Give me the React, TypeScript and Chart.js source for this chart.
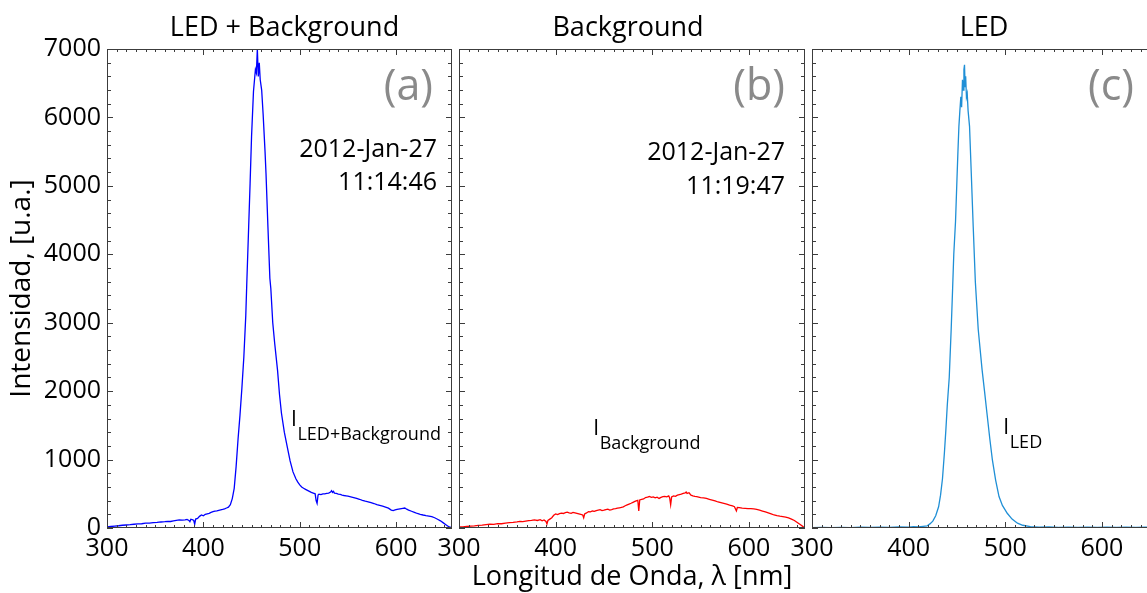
import React, { useEffect, useRef } from 'react';
import { Chart, registerables } from 'chart.js';

Chart.register(...registerables);

const FONT = '"Open Sans", "DejaVu Sans", sans-serif';

// ---------- data ----------
const wavelengthA = [300, 304, 308, 312, 316, 320, 324, 328, 332, 336, 340, 344, 348, 352, 356, 360, 363, 366, 369, 372, 375, 378, 381, 383, 385, 386, 387, 389, 390, 391, 392, 394, 396, 398, 400, 402, 404, 406, 408, 410, 412, 414, 416, 418, 420, 422, 424, 426, 428, 430, 432, 434, 436, 438, 440, 442, 444, 445, 447, 448.5, 450, 452, 454, 455, 456, 457, 458, 459, 460.5, 462, 464, 465, 467, 469, 470, 472, 474, 477, 479, 481, 484, 487, 490, 493, 496, 498, 500, 502, 504, 506, 508, 510, 512, 514, 516, 517, 518, 519, 520, 522, 524, 526, 528, 530, 532, 533, 534, 535, 536, 538, 540, 542, 544, 546, 548, 550, 553, 556, 559, 562, 565, 568, 571, 574, 577, 580, 583, 586, 589, 592, 595, 597, 599, 601, 604, 607, 609, 611, 613, 616, 619, 622, 625, 628, 631, 634, 637, 640, 643, 646, 649, 652, 655, 658];
const intensityA = [15, 22, 28, 33, 40, 44, 48, 55, 60, 62, 70, 72, 78, 82, 88, 92, 98, 95, 105, 112, 118, 115, 120, 125, 110, 92, 128, 120, 110, 55, 130, 140, 170, 190, 178, 200, 208, 215, 228, 238, 245, 250, 258, 265, 272, 280, 292, 305, 340, 430, 580, 900, 1300, 1650, 2050, 2500, 3100, 3550, 4400, 5040, 5720, 6380, 6700, 6650, 7000, 6600, 6800, 6550, 6400, 6050, 5500, 5180, 4400, 3650, 3500, 3000, 2700, 2300, 1950, 1680, 1400, 1190, 980, 820, 720, 670, 630, 600, 580, 565, 550, 535, 520, 510, 500, 400, 360, 480, 495, 488, 500, 498, 505, 510, 525, 545, 520, 535, 510, 505, 495, 490, 482, 475, 470, 465, 455, 445, 432, 420, 405, 392, 383, 370, 358, 342, 330, 318, 305, 290, 262, 255, 265, 272, 280, 288, 292, 275, 262, 245, 228, 212, 200, 190, 182, 175, 165, 150, 128, 105, 75, 45, 15, 5];

const wavelengthB = [300, 304, 308, 312, 316, 320, 324, 328, 332, 336, 340, 344, 348, 352, 356, 360, 363, 366, 369, 372, 375, 378, 381, 384, 386, 388, 390, 391, 392, 394, 396, 398, 400, 402, 404, 406, 408, 410, 412, 414, 416, 418, 420, 422, 424, 426, 428, 429, 430, 432, 434, 436, 438, 440, 442, 444, 446, 448, 450, 452, 454, 456, 458, 460, 462, 464, 466, 468, 470, 472, 474, 476, 478, 480, 482, 484, 485, 486, 487, 489, 491, 493, 495, 497, 499, 501, 503, 505, 507, 509, 511, 513, 515, 517, 518, 519, 520, 522, 524, 526, 528, 530, 532, 534, 535, 536, 538, 540, 542, 544, 546, 548, 550, 553, 556, 559, 562, 565, 568, 571, 574, 577, 580, 583, 585, 587, 588, 590, 593, 596, 599, 602, 605, 608, 611, 614, 617, 620, 623, 626, 629, 632, 635, 638, 641, 644, 647, 650, 653, 656, 658];
const intensityB = [15, 17, 22, 28, 30, 38, 42, 50, 58, 54, 65, 62, 72, 78, 82, 90, 98, 92, 100, 108, 112, 118, 110, 122, 105, 118, 95, 60, 110, 130, 150, 185, 205, 195, 210, 218, 212, 225, 232, 222, 215, 228, 222, 215, 208, 200, 190, 150, 205, 220, 240, 235, 248, 242, 255, 262, 268, 255, 260, 270, 275, 262, 268, 278, 282, 290, 295, 300, 310, 325, 338, 350, 362, 375, 388, 400, 405, 250, 410, 418, 425, 445, 452, 460, 448, 455, 440, 450, 432, 448, 458, 462, 455, 470, 440, 340, 455, 470, 462, 480, 488, 495, 505, 512, 525, 505, 515, 480, 470, 462, 458, 452, 445, 440, 432, 420, 408, 395, 380, 370, 360, 350, 335, 322, 312, 250, 300, 298, 290, 287, 283, 282, 278, 272, 260, 248, 235, 220, 205, 190, 180, 172, 165, 158, 148, 130, 110, 80, 50, 20, 5];

const wavelengthC = [300, 310, 320, 330, 340, 350, 360, 370, 380, 390, 400, 405, 410, 415, 419, 422, 425, 428, 431, 433, 435, 437, 438.5, 440, 442, 444, 445.5, 446.7, 448.5, 450, 451, 452, 453, 454, 454.8, 455.7, 456.5, 457.2, 457.8, 458.4, 459, 459.8, 460.6, 461.5, 463, 464.8, 466.8, 469, 472, 476, 478.5, 481, 484, 486.6, 490, 493.5, 497, 502, 507, 512.6, 518, 526, 535, 545, 555, 565, 575, 585, 595, 605, 615, 625, 635, 645, 655, 658];
const intensityC = [5, 8, 4, 10, 6, 12, 8, 14, 10, 15, 12, 18, 15, 25, 30, 60, 100, 180, 310, 480, 720, 1100, 1430, 1800, 2200, 2900, 3500, 4000, 4480, 5100, 5500, 5870, 6100, 6300, 6150, 6550, 6400, 6700, 6770, 6450, 6600, 6300, 6350, 6100, 5870, 5185, 4405, 3600, 2900, 2310, 2000, 1680, 1300, 1000, 700, 460, 330, 215, 130, 70, 40, 20, 12, 15, 8, 14, 10, 12, 8, 13, 9, 12, 8, 11, 7, 6];

const xTickLabels = [300, 400, 500, 600];
const yTickLabels = [0, 1000, 2000, 3000, 4000, 5000, 6000, 7000];

const panelTitles = ['LED + Background', 'Background', 'LED'];
const panelLetters = ['(a)', '(b)', '(c)'];
const panelDates = [['2012-Jan-27', '11:14:46'], ['2012-Jan-27', '11:19:47'], []];
const curveLabels = ['LED+Background', 'Background', 'LED'];
const curveLabelAt = [[491, 1490], [439, 1360], [498, 1375]];

const X_MIN = 300;
const X_MAX = 658;
const Y_MIN = 0;
const Y_MAX = 7000;

// ---------- decoration plugin ----------
const decorPlugin = {
  id: 'decor',
  afterDatasetsDraw(chart: any, _args: any, o: any) {
    const { ctx, chartArea: ca, scales } = chart;
    const xs = scales.x;
    const ys = scales.y;
    ctx.save();
    ctx.strokeStyle = '#3c3c3c';
    ctx.lineWidth = 1;
    ctx.strokeRect(ca.left + 0.5, ca.top + 0.5, ca.right - ca.left - 1, ca.bottom - ca.top - 1);
    ctx.beginPath();
    for (let v = X_MIN; v <= X_MAX; v += 10) {
      const px = Math.round(xs.getPixelForValue(v)) + 0.5;
      const len = v % 100 === 0 ? 6 : 3;
      ctx.moveTo(px, ca.bottom);
      ctx.lineTo(px, ca.bottom - len);
      ctx.moveTo(px, ca.top);
      ctx.lineTo(px, ca.top + len);
    }
    for (let v = Y_MIN; v <= Y_MAX; v += 200) {
      const py = Math.round(ys.getPixelForValue(v)) + 0.5;
      const len = v % 1000 === 0 ? 6 : 4;
      ctx.moveTo(ca.left, py);
      ctx.lineTo(ca.left + len, py);
      ctx.moveTo(ca.right, py);
      ctx.lineTo(ca.right - len, py);
    }
    ctx.stroke();

    // panel title
    ctx.fillStyle = '#000';
    ctx.textBaseline = 'alphabetic';
    ctx.textAlign = 'center';
    ctx.font = `27px ${FONT}`;
    ctx.fillText(o.title, (ca.left + ca.right) / 2 + o.titleDx, 36);

    // letter
    ctx.textAlign = 'right';
    ctx.fillStyle = '#8a8a8a';
    ctx.font = `43px ${FONT}`;
    ctx.fillText(o.letter, ca.right + o.letterDx, ca.top + 51);

    // dates
    ctx.fillStyle = '#000';
    ctx.font = `25px ${FONT}`;
    o.dates.forEach((d: string, i: number) => {
      ctx.fillText(d, ca.right + o.dateDx, ca.top + o.dateY[i]);
    });

    // curve label
    ctx.textAlign = 'left';
    const lx = xs.getPixelForValue(o.labelAt[0]);
    const ly = ys.getPixelForValue(o.labelAt[1]);
    ctx.font = `21px ${FONT}`;
    ctx.fillText('I', lx, ly);
    const w = ctx.measureText('I').width;
    ctx.font = `18px ${FONT}`;
    ctx.fillText(o.sub, lx + w + 0.5, ly + 14);
    ctx.restore();
  },
};

function makeConfig(idx: number, xs: number[], ys: number[], color: string) {
  const first = idx === 0;
  const middle = idx === 1;
  const pads = [
    { left: 0, right: 8, top: 49, bottom: 0 },
    { left: 39, right: 15, top: 49, bottom: 0 },
    { left: 42, right: 12, top: 49, bottom: 0 },
  ];
  return {
    type: 'line',
    data: {
      datasets: [
        {
          data: xs.map((x, i) => ({ x, y: ys[i] })),
          borderColor: color,
          borderWidth: 1.3,
          pointRadius: 0,
          tension: 0,
          fill: false,
        },
      ],
    },
    options: {
      responsive: false,
      maintainAspectRatio: false,
      animation: false,
      layout: { padding: pads[idx] },
      plugins: {
        legend: { display: false },
        tooltip: { enabled: false },
        title: { display: false },
        decor: {
          title: panelTitles[idx],
          titleDx: [5, -4, -1][idx],
          letter: panelLetters[idx],
          letterDx: [-19, -20, -24][idx],
          dates: panelDates[idx],
          dateDx: [-15, -20, -20][idx],
          dateY: [[108, 141], [111, 145], [0, 0]][idx],
          labelAt: curveLabelAt[idx],
          sub: curveLabels[idx],
        },
      },
      scales: {
        x: {
          type: 'linear',
          min: X_MIN,
          max: X_MAX,
          grid: { display: false, drawTicks: false },
          border: { display: false },
          ticks: {
            stepSize: 100,
            includeBounds: false,
            autoSkip: false,
            maxRotation: 0,
            padding: 6,
            color: '#000',
            font: { family: FONT, size: 25 },
            callback: (v: number) => (xTickLabels.includes(v) ? String(v) : ''),
          },
          title: {
            display: middle,
            text: 'Longitud de Onda, λ [nm]',
            color: '#000',
            font: { family: FONT, size: 27 },
            padding: { top: 0, bottom: 6 },
          },
          afterFit: (s: any) => {
            s.height = 72;
          },
        },
        y: {
          type: 'linear',
          display: first,
          min: Y_MIN,
          max: Y_MAX,
          grid: { display: false, drawTicks: false },
          border: { display: false },
          ticks: {
            stepSize: 1000,
            padding: 6,
            color: '#000',
            font: { family: FONT, size: 25 },
            callback: (v: number) => (yTickLabels.includes(v) ? String(v) : ''),
          },
          title: {
            display: first,
            text: 'Intensidad, [u.a.]',
            color: '#000',
            font: { family: FONT, size: 28 },
            padding: { top: 5, bottom: 0 },
          },
          afterFit: (s: any) => {
            if (first) s.width = 107;
          },
        },
      },
    },
    plugins: [decorPlugin],
  };
}

export default function App() {
  const refA = useRef<HTMLCanvasElement>(null);
  const refB = useRef<HTMLCanvasElement>(null);
  const refC = useRef<HTMLCanvasElement>(null);

  useEffect(() => {
    const charts = [
      new Chart(refA.current as any, makeConfig(0, wavelengthA, intensityA, '#0000ff') as any),
      new Chart(refB.current as any, makeConfig(1, wavelengthB, intensityB, '#ff0000') as any),
      new Chart(refC.current as any, makeConfig(2, wavelengthC, intensityC, '#1f8fd6') as any),
    ];
    return () => charts.forEach((c) => c.destroy());
  }, []);

  return (
    <div
      style={{
        position: 'fixed',
        left: 0,
        top: 0,
        width: 1147,
        height: 593,
        overflow: 'hidden',
        background: '#fff',
      }}
    >
      <canvas ref={refA} width={460} height={600} style={{ position: 'absolute', left: 0, top: 0 }} />
      <canvas ref={refB} width={400} height={600} style={{ position: 'absolute', left: 420, top: 0 }} />
      <canvas ref={refC} width={400} height={600} style={{ position: 'absolute', left: 770, top: 0 }} />
    </div>
  );
}
